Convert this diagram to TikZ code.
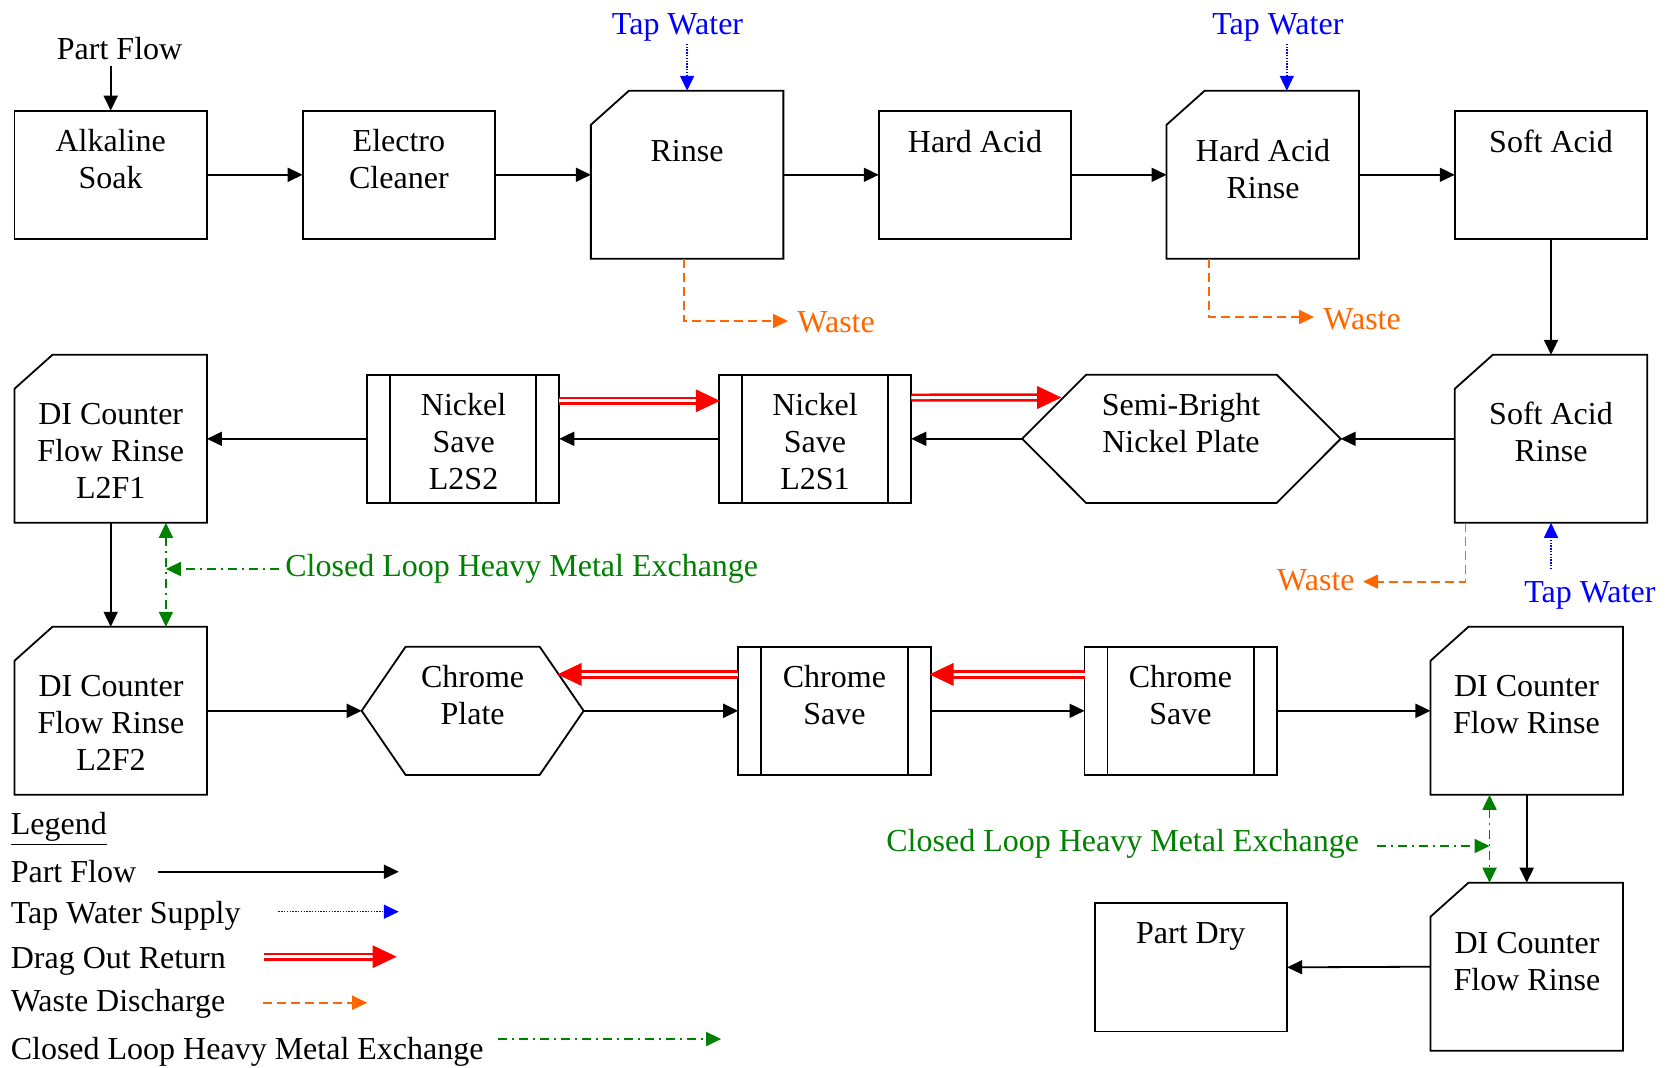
\documentclass[tikz,border=0pt]{standalone}
\usepackage{fontspec}
\setmainfont{Liberation Serif}
\usetikzlibrary{arrows.meta,calc,decorations.markings}

\definecolor{tapblue}{RGB}{0,0,255}
\definecolor{wasteorange}{RGB}{255,102,0}
\definecolor{loopgreen}{RGB}{0,128,0}
\definecolor{dragred}{RGB}{255,0,0}

\tikzset{
  shapebox/.style={rectangle, inner sep=0pt, outer sep=0pt,
    minimum width=96.25pt, minimum height=64.15pt},
  outline/.style={line width=0.9pt, line join=miter},
  txt/.style={inner sep=0pt, align=center, font=\fontsize{16pt}{18.5pt}\selectfont},
  tip/.style={-{Triangle[length=7.5pt,width=7pt]}},
  flow/.style={tip, line width=0.9pt},
  tap/.style={tip, draw=tapblue, line width=0.7pt, dash pattern=on 0.7pt off 0.7pt},
  waste/.style={tip, draw=wasteorange, line width=0.9pt, dash pattern=on 4.5pt off 2.5pt},
  loop/.style={draw=loopgreen, line width=0.9pt, dash pattern=on 4.5pt off 2.5pt on 1pt off 2.5pt},
  loopone/.style={loop, -{Triangle[length=7.5pt,width=7pt]}},
  looptwo/.style={loop, {Triangle[length=7.5pt,width=7pt]}-{Triangle[length=7.5pt,width=7pt]}},
  drag/.style={draw=dragred, line width=1.35pt, double=white, double distance=1.4pt,
    shorten >=8pt,
    postaction={decorate, decoration={markings, mark=at position 1 with
      {\fill[dragred] (0.6pt,0pt) -- (-11.5pt,5.75pt) -- (-11.5pt,-5.75pt) -- cycle;}}}},
}

% plain process box
\newcommand{\procnode}[2]{%
  \node[shapebox, draw, outline] (#1) at (#2) {};}
% rinse tank: box with the upper left corner cut off
\newcommand{\cardnode}[2]{%
  \node[shapebox, minimum height=84pt] (#1) at (#2) {};
  \draw[outline] (#1.south west) -- ([yshift=-17pt]#1.north west)
    -- ([xshift=19pt]#1.north west) -- (#1.north east) -- (#1.south east) -- cycle;}
% save tank: box with two inner side bars
\newcommand{\savenode}[2]{%
  \node[shapebox, draw, outline] (#1) at (#2) {};
  \draw[outline] ([xshift=11.5pt]#1.north west) -- ([xshift=11.5pt]#1.south west)
    ([xshift=-11.5pt]#1.north east) -- ([xshift=-11.5pt]#1.south east);}
% plating tank: hexagon (name, position, width, inset)
\newcommand{\hexnode}[4]{%
  \node[shapebox, minimum width=#3] (#1) at (#2) {};
  \draw[outline] (#1.west) -- ([xshift=#4]#1.north west) -- ([xshift=-#4]#1.north east)
    -- (#1.east) -- ([xshift=-#4]#1.south east) -- ([xshift=#4]#1.south west) -- cycle;}

\begin{document}
\begin{tikzpicture}[x=0.5pt, y=-0.5pt]
\useasboundingbox (0,0) rectangle (1669,1067);

% ---------- first row ----------
\procnode{alk}{110.7,174.8}
\procnode{elec}{398.9,174.8}
\cardnode{rinse}{687.1,174.8}
\procnode{hacid}{975,174.8}
\cardnode{har}{1262.8,174.8}
\procnode{sacid}{1551,174.8}

\node[txt] (pf-t) at (119.6,48.3) {Part Flow};
\node[txt] (alk-t) at (110.7,159.2) {Alkaline\\Soak};
\node[txt] (elec-t) at (398.9,159.2) {Electro\\Cleaner};
\node[txt] (rinse-t) at (687,150.7) {Rinse};
\node[txt] (hacid-t) at (975,141.7) {Hard Acid};
\node[txt] (har-t) at (1263,168.8) {Hard Acid\\Rinse};
\node[txt] (sacid-t) at (1551,141.7) {Soft Acid};
\node[txt, text=tapblue] (tw1) at (677.5,27.5) {Tap Water};
\node[txt, text=tapblue] (tw2) at (1277.8,27.5) {Tap Water};
\node[txt, text=wasteorange, anchor=west] (w1) at (797,322) {Waste};
\node[txt, text=wasteorange, anchor=west] (w2) at (1323,319) {Waste};

% ---------- second row ----------
\cardnode{sar}{1551,438.8}
\hexnode{semi}{1181.4,438.8}{159.25pt}{32pt}
\savenode{l2s1}{815,438.8}
\savenode{l2s2}{463,438.8}
\cardnode{l2f1}{110.7,438.8}

\node[txt] (sar-t) at (1551,431.5) {Soft Acid\\Rinse};
\node[txt] (semi-t) at (1181,423.3) {Semi-Bright\\Nickel Plate};
\node[txt] (l2s1-t) at (815,441.7) {Nickel\\Save\\L2S1};
\node[txt] (l2s2-t) at (463.6,441.7) {Nickel\\Save\\L2S2};
\node[txt] (l2f1-t) at (110.7,451.1) {DI Counter\\Flow Rinse\\L2F1};
\node[txt, text=loopgreen, anchor=west] (cl1) at (285,569) {Closed Loop Heavy Metal Exchange};
\node[txt, text=wasteorange, anchor=east] (w3) at (1355,580) {Waste};
\node[txt, text=tapblue] (tw3) at (1589.8,595.5) {Tap Water};

% ---------- third row ----------
\cardnode{l2f2}{110.7,710.8}
\hexnode{chrp}{472.65,710.8}{111pt}{22pt}
\savenode{cs1}{834.4,710.8}
\savenode{cs2}{1180.8,710.8}
\cardnode{di1}{1526.7,710.8}

\node[txt] (l2f2-t) at (111,723.3) {DI Counter\\Flow Rinse\\L2F2};
\node[txt] (chrp-t) at (472.6,695.5) {Chrome\\Plate};
\node[txt] (cs1-t) at (834.4,695) {Chrome\\Save};
\node[txt] (cs2-t) at (1180.4,695) {Chrome\\Save};
\node[txt] (di1-t) at (1526.5,705) {DI Counter\\Flow Rinse};

% ---------- last row ----------
\cardnode{di2}{1526.7,966.7}
\procnode{dry}{1190.9,967.3}
\node[txt] (di2-t) at (1527,961.7) {DI Counter\\Flow Rinse};
\node[txt] (dry-t) at (1190.8,936.5) {Part Dry};
\node[txt, text=loopgreen, anchor=east] (cl2) at (1359.5,844) {Closed Loop Heavy Metal Exchange};

% ---------- part flow ----------
\draw[flow] ([yshift=-3pt]pf-t.south -| alk.north) -- (alk.north);
\draw[flow] (alk.east) -- (elec.west);
\draw[flow] (elec.east) -- (rinse.west);
\draw[flow] (rinse.east) -- (hacid.west);
\draw[flow] (hacid.east) -- (har.west);
\draw[flow] (har.east) -- (sacid.west);
\draw[flow] (sacid.south) -- (sar.north);
\draw[flow] (sar.west) -- (semi.east);
\draw[flow] (semi.west) -- (l2s1.east);
\draw[flow] (l2s1.west) -- (l2s2.east);
\draw[flow] (l2s2.west) -- (l2f1.east);
\draw[flow] (l2f1.south) -- (l2f2.north);
\draw[flow] (l2f2.east) -- (chrp.west);
\draw[flow] (chrp.east) -- (cs1.west);
\draw[flow] (cs1.east) -- (cs2.west);
\draw[flow] (cs2.east) -- (di1.west);
\draw[flow] (di1.south) -- (di2.north);
\draw[flow] (di2.west) -- (dry.east);

% ---------- tap water ----------
\draw[tap] ([yshift=-1pt]tw1.south -| rinse.north) -- (rinse.north);
\draw[tap] ([xshift=4.5pt,yshift=-1pt]tw2.south) -- ([xshift=4.5pt]tw2.south |- har.north);
\draw[tap] ([yshift=6pt]tw3.north -| sar.south) -- (sar.south);

% ---------- waste ----------
\draw[waste] ([xshift=-1.5pt]rinse.south) |- ([xshift=-4.5pt,yshift=0.5pt]w1.west);
\draw[waste] ([xshift=21.4pt]har.south west) |- ([xshift=-4.5pt,yshift=1pt]w2.west);
\draw[waste] ([xshift=5.4pt]sar.south west) |- ([xshift=4pt,yshift=-0.8pt]w3.east);

% ---------- drag out return ----------
\draw[drag] ([yshift=19pt]l2s2.east) -- ([yshift=19pt]l2s1.west);
\draw[drag] ([yshift=20.6pt]l2s1.east) -- ($(semi.west)+(38,-41.3)$);
\draw[drag] ([yshift=18.2pt]cs2.west) -- ([yshift=18.2pt]cs1.east);
\draw[drag] ([yshift=18.2pt]cs1.west) -- ($(chrp.east)+(-25,-36.4)$);

% ---------- closed loop exchange ----------
\coordinate (gl) at ([xshift=27.6pt]l2f1.south);
\draw[looptwo] (gl) -- (gl |- l2f2.north);
\draw[loopone] ([xshift=-3pt]cl1.west) -- (cl1.west -| gl);
\coordinate (gr) at ([xshift=-18.6pt]di1.south);
\draw[looptwo] (gr) -- (gr |- di2.north);
\draw[loopone] ([xshift=8.6pt,yshift=-1pt]cl2.east) -- ([yshift=-1pt]cl2.east -| gr);

% ---------- legend ----------
\node[txt, anchor=west] (lg0) at (10.4,829) {\underline{Legend}};
\node[txt, anchor=west] (lg1) at (10.4,871.7) {Part Flow};
\node[txt, anchor=west] (lg2) at (10.4,915.5) {Tap Water Supply};
\node[txt, anchor=west] (lg3) at (10.4,961) {Drag Out Return};
\node[txt, anchor=west] (lg4) at (10.4,1003.5) {Waste Discharge};
\node[txt, anchor=west] (lg5) at (10.4,1051.5) {Closed Loop Heavy Metal Exchange};

\coordinate (k1a) at (158.1,871.7);  \coordinate (k1b) at (398.8,871.7);
\coordinate (k2a) at (278.4,911.7);  \coordinate (k2b) at (398.8,911.7);
\coordinate (k3a) at (264.3,956.7);  \coordinate (k3b) at (395.5,956.7);
\coordinate (k4a) at (262.9,1002.7); \coordinate (k4b) at (367.2,1002.7);
\coordinate (k5a) at (497.9,1039);   \coordinate (k5b) at (721.1,1039);
\draw[flow] (k1a) -- (k1b);
\draw[tap] (k2a) -- (k2b);
\draw[drag] (k3a) -- (k3b);
\draw[waste] (k4a) -- (k4b);
\draw[loopone] (k5a) -- (k5b);
\end{tikzpicture}
\end{document}
